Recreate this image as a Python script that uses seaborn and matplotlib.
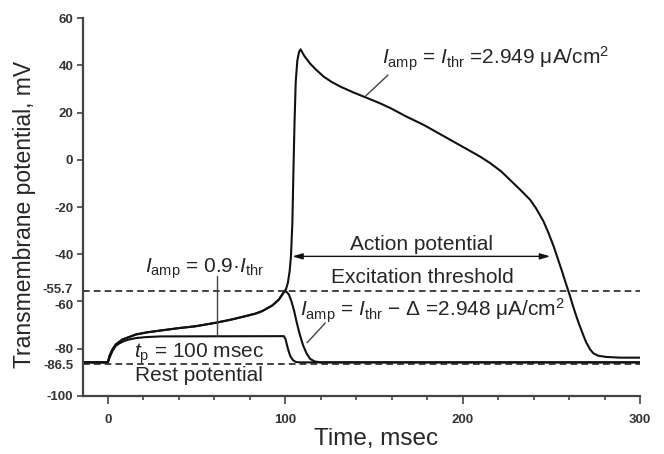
import numpy as np
import seaborn as sns
import matplotlib.pyplot as plt
import matplotlib.transforms as mtransforms
from matplotlib.ticker import MultipleLocator

# values (time in msec, potential in mV)
# shared rising part of the threshold and sub-threshold responses
rise_t = [-14, 0, 1, 2.6, 4.5, 8.3, 15.8, 22, 30.8, 40, 49.5, 61.7, 70, 77.7, 83, 87, 92.7, 96.4, 99.2]
rise_v = [-85.8, -85.8, -83, -80.3, -78.2, -76.1, -74, -73.1, -72.2, -71.3, -70.5, -68.9,
          -67.6, -66.2, -65.2, -64.1, -61.7, -59.2, -56.1]

# I_amp = I_thr: action potential
ap_t = [100.5, 101.5, 102.5, 103.2, 104, 104.6, 105.2, 105.9, 106.8, 107.7, 108.6, 111, 114.2,
        117.6, 121.7, 126.1, 131.1, 138.2, 146.1, 153.2, 159.3, 168.3, 178, 188.9, 200.5, 209.5,
        215.5, 221.7, 228.6, 233, 238, 241.4, 245.5, 248, 251.2, 253, 255.9, 257.7, 260.2, 262,
        264.3, 265.8, 268, 269.6, 271.8, 273.7, 276.5, 280.8, 288.7, 300]
ap_v = [-54.6, -52, -47, -41, -27, -5, 15, 33, 42, 45.5, 46.8, 43.7, 40.6, 38.0, 35.2, 33, 31,
        28.6, 26.2, 24, 21.9, 18.3, 14.8, 10.2, 5.3, 1.5, -1.4, -4.9, -9.9, -13.1, -16.9, -20.6,
        -26, -30.3, -36.5, -40.5, -47, -51.3, -57, -61.5, -66.8, -70, -74.3, -77.3, -80.3,
        -82, -83, -83.5, -83.8, -83.8]

# I_amp = I_thr - delta: falls back after the pulse
sub_t = [100.3, 102, 103.5, 105, 106.5, 108, 110, 112, 114, 116.5, 120, 300]
sub_v = [-55.6, -57, -60, -64, -69, -73.5, -78.5, -82, -84.3, -85.4, -85.8, -85.8]

# I_amp = 0.9 I_thr
low_t = [-14, 0, 1, 2.6, 4.5, 6.4, 9, 12, 16, 21.4, 30, 99.2, 100.2, 101.1, 102, 103, 104.3,
         105.8, 108, 300]
low_v = [-85.8, -85.8, -83.8, -81, -78.8, -77.8, -76.8, -76.1, -75.5, -75.1, -74.8, -74.7,
         -76, -78.9, -81.3, -83.4, -84.8, -85.6, -85.8, -85.8]

threshold = -55.7
rest = -86.5
ap_start, ap_end, ap_arrow_v = 104, 249.3, -40.9

ytick_vals = [-100, -86.5, -80, -60, -55.7, -40, -20, 0, 20, 40, 60]
ytick_labels = ['-100', '-86.5', '-80', '-60', '-55.7', '-40', '-20', '0', '20', '40', '60']
xtick_vals = [0, 100, 200, 300]

sns.set_style('ticks')
plt.rcParams['font.family'] = ['Liberation Sans', 'DejaVu Sans']
plt.rcParams['mathtext.fontset'] = 'custom'
plt.rcParams['mathtext.rm'] = 'Liberation Sans'
plt.rcParams['mathtext.it'] = 'Liberation Sans:italic'
plt.rcParams['axes.unicode_minus'] = False

fig = plt.figure(figsize=(6.64, 4.54), dpi=100)
ax = fig.add_axes([0.125, 0.128, 0.839, 0.832])

line_kw = dict(color='#111111', lw=1.5, estimator=None, sort=False, ax=ax)
sns.lineplot(x=rise_t + ap_t, y=rise_v + ap_v, **line_kw)
sns.lineplot(x=rise_t + sub_t, y=rise_v + sub_v, **line_kw)
sns.lineplot(x=low_t, y=low_v, **line_kw)

# threshold and rest levels
ax.axhline(threshold, color='#222222', lw=1.2, ls=(0, (4, 2.5)))
ax.axhline(rest, color='#222222', lw=1.2, ls=(0, (4, 2.5)))

ax.annotate('', xy=(ap_start, ap_arrow_v), xytext=(ap_end, ap_arrow_v),
            arrowprops=dict(arrowstyle='<|-|>,head_length=0.6,head_width=0.18',
                            color='#111111', lw=1.0, shrinkA=0, shrinkB=0))

# leader lines
lead = dict(color='#444444', lw=1.0)
ax.plot([157.9, 145.4], [35.9, 27.1], **lead)
ax.plot([61.5, 61.5], [-49.3, -74.6], **lead)
ax.plot([112.3, 122.6], [-77.5, -69.1], **lead)

fs = 15
ax.text(218.5, 40.2, r'$I_{\rm amp}$ = $I_{\rm thr}$ =2.949 μA/cm$^2$', fontsize=fs,
        ha='center', va='baseline')
ax.text(54.4, -47.9, r'$I_{\rm amp}$ = 0.9·$I_{\rm thr}$', fontsize=fs, ha='center', va='baseline')
ax.text(51.4, -83.9, r'$t_{\rm p}$ = 100 msec', fontsize=fs, ha='center', va='baseline')
ax.text(51.2, -93.7, 'Rest potential', fontsize=fs, ha='center', va='baseline')
ax.text(177, -38.1, 'Action potential', fontsize=fs, ha='center', va='baseline')
ax.text(177.5, -52.1, 'Excitation threshold', fontsize=fs, ha='center', va='baseline')
ax.text(183.1, -66.5, r'$I_{\rm amp}$ = $I_{\rm thr}$ − Δ =2.948 μA/cm$^2$', fontsize=fs,
        ha='center', va='baseline')

ax.set_xlim(-14, 300)
ax.set_ylim(-100, 60)
ax.set_xticks(xtick_vals)
ax.set_xticklabels([str(v) for v in xtick_vals])
ax.xaxis.set_minor_locator(MultipleLocator(20))
ax.set_yticks(ytick_vals)
ax.set_yticklabels(ytick_labels)
for tick, lab in zip(ax.yaxis.get_major_ticks(), ytick_labels):
    if lab in ('-86.5', '-55.7'):
        tick.tick1line.set_visible(False)

ax.tick_params(axis='both', which='major', direction='out', width=1.2, color='#444444',
               labelsize=9.5, labelcolor='#333333')
ax.tick_params(axis='x', which='major', length=6, pad=7)
ax.tick_params(axis='x', which='minor', length=3, width=1.2, color='#444444')
ax.tick_params(axis='y', which='major', length=4, pad=3)
for lab in ax.get_xticklabels() + ax.get_yticklabels():
    lab.set_fontweight('bold')
    # keep the close -55.7 / -60 labels apart
    if lab.get_text() == '-55.7':
        lab.set_transform(lab.get_transform() + mtransforms.ScaledTranslation(0, 2 / 72, fig.dpi_scale_trans))
    elif lab.get_text() == '-60':
        lab.set_transform(lab.get_transform() + mtransforms.ScaledTranslation(0, -2 / 72, fig.dpi_scale_trans))

sns.despine(ax=ax)
for side in ('left', 'bottom'):
    ax.spines[side].set_linewidth(1.6)
    ax.spines[side].set_color('#444444')

ax.set_xlabel('Time, msec', fontsize=17.5)
ax.set_ylabel('Transmembrane potential, mV', fontsize=16.5)
ax.xaxis.set_label_coords(0.526, -0.085)
ax.yaxis.set_label_coords(-0.084, 0.48)

fig.savefig('out.png', dpi=100)
